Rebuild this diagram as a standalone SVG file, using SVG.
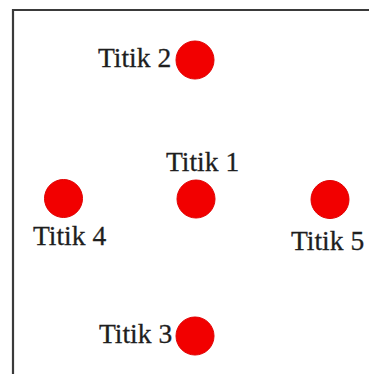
<svg xmlns="http://www.w3.org/2000/svg" width="369" height="374" viewBox="0 0 369 374">
<style>
.pt{fill:#f20000;stroke:#e00000;stroke-width:1}
.lb{font-family:"Liberation Serif","Times New Roman",serif;font-size:27.5px;fill:#1e1e1e;stroke:#1e1e1e;stroke-width:0.3}
</style>
<rect x="0" y="0" width="369" height="374" fill="#fff"/>
<path d="M13,376 V10 H371" fill="none" stroke="#3a3a3a" stroke-width="2.2"/>
<g id="connectors"/>
<g id="titik2"><circle class="pt" cx="195" cy="60" r="19"/><text class="lb" x="98" y="67">Titik 2</text></g>
<g id="titik1"><circle class="pt" cx="196" cy="199" r="19"/><text class="lb" x="166" y="171">Titik 1</text></g>
<g id="titik4"><circle class="pt" cx="63.5" cy="198.5" r="19"/><text class="lb" x="33" y="245">Titik 4</text></g>
<g id="titik5"><circle class="pt" cx="330" cy="199.5" r="19"/><text class="lb" x="291" y="250">Titik 5</text></g>
<g id="titik3"><circle class="pt" cx="195" cy="336" r="19"/><text class="lb" x="99" y="343">Titik 3</text></g>
</svg>
